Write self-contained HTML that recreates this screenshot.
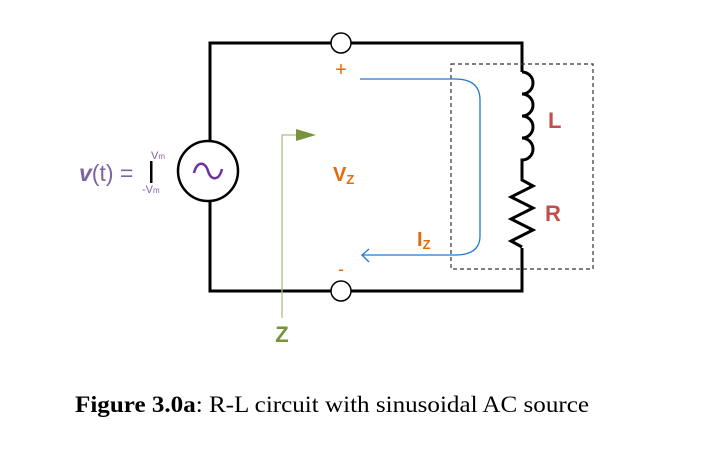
<!DOCTYPE html>
<html><head><style>
body{margin:0;background:#fff;}
svg text{font-family:"Liberation Sans",sans-serif;}
</style></head><body>
<svg width="706" height="457" viewBox="0 0 706 457" xmlns="http://www.w3.org/2000/svg">
<rect width="706" height="457" fill="#fff"/>
<g stroke="#000" stroke-width="3" fill="none">
<path d="M210 141 V43 H522 V72"/>
<path d="M210 201 V291 H522 V248"/>
<path d="M522 72 a11 11 0 0 1 0 22 a11 11 0 0 1 0 22 a11 11 0 0 1 0 22 a11 11 0 0 1 0 22 V180 l11 6 l-22 11 l22 11 l-22 11 l22 11 l-22 11 l11 6"/>
</g>
<circle cx="341" cy="43" r="10" fill="#fff" stroke="#000" stroke-width="1.5"/>
<circle cx="341" cy="291" r="10" fill="#fff" stroke="#000" stroke-width="1.5"/>
<circle cx="208" cy="171" r="30" fill="#fff" stroke="#000" stroke-width="2.5"/>
<path d="M194 173 c3 -12 11 -12 14 -2 c3 10 11 10 14 -2" fill="none" stroke="#7030a0" stroke-width="2.5"/>
<rect x="451" y="64" width="142" height="205" fill="none" stroke="#333" stroke-width="1.2" stroke-dasharray="4,3"/>
<path d="M360 79 H455 Q480 79 480 100 V236 Q480 255 455 255 H362" fill="none" stroke="#1f7ad0" stroke-width="1.3"/>
<path d="M369 249 L362 255 L369 262" fill="none" stroke="#1f7ad0" stroke-width="1.3"/>
<path d="M282 318 V135 H298" fill="none" stroke="#a9c08a" stroke-width="1.3"/>
<polygon points="296,129 316,135 296,141" fill="#77933c"/>
<text x="282" y="342" font-size="22" font-weight="bold" fill="#77933c" text-anchor="middle">Z</text>
<text x="341" y="76" font-size="20" fill="#e36c0a" text-anchor="middle">+</text>
<text x="341" y="275" font-size="18" fill="#e36c0a" text-anchor="middle">-</text>
<text x="333" y="181" font-size="20" font-weight="bold" fill="#e36c0a">V<tspan font-size="13" dy="3">Z</tspan></text>
<text x="417" y="246" font-size="20" font-weight="bold" fill="#e36c0a">I<tspan font-size="13" dy="3">Z</tspan></text>
<text x="548" y="128" font-size="22" font-weight="bold" fill="#c0504d">L</text>
<text x="545" y="221" font-size="22" font-weight="bold" fill="#c0504d">R</text>
<text x="79" y="181" font-size="23" fill="#8064a2"><tspan font-weight="bold" font-style="italic">v</tspan>(t) =</text>
<rect x="150" y="161" width="2.5" height="22" fill="#000"/>
<text x="151" y="159" font-size="11" fill="#8064a2">V<tspan font-size="8">m</tspan></text>
<text x="142" y="193" font-size="11" fill="#8064a2">-V<tspan font-size="8">m</tspan></text>
<text x="75" y="412" font-size="23" fill="#000" textLength="514" lengthAdjust="spacingAndGlyphs" style="font-family:'Liberation Serif',serif"><tspan font-weight="bold">Figure 3.0a</tspan>: R-L circuit with sinusoidal AC source</text>
</svg>
</body></html>
